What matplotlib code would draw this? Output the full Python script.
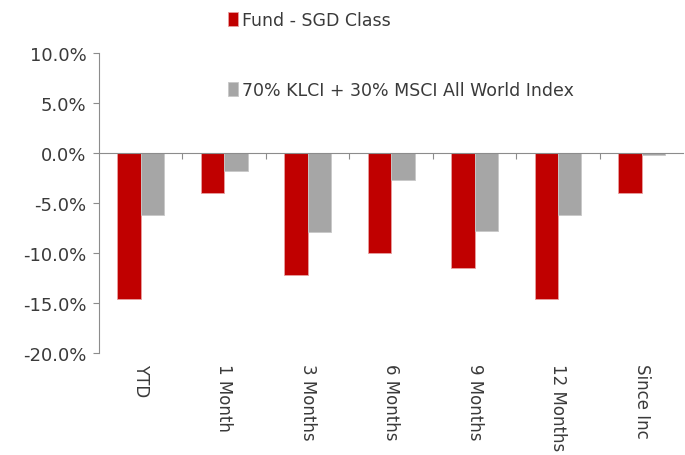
import matplotlib
matplotlib.use('Agg')
import matplotlib.pyplot as plt
import numpy as np

plt.rcParams.update({'font.family': 'DejaVu Sans', 'font.size': 12,
                     'text.color': '#3a3a3a', 'xtick.labelcolor': '#3a3a3a',
                     'ytick.labelcolor': '#3a3a3a'})

categories = ['YTD', '1 Month', '3 Months', '6 Months', '9 Months', '12 Months', 'Since Inc']
fund = [-14.6, -4.0, -12.2, -10.0, -11.5, -14.6, -4.0]
bench = [-6.2, -1.8, -7.9, -2.7, -7.8, -6.2, -0.2]

fig = plt.figure(figsize=(6.85, 4.56), dpi=100)
ax = fig.add_axes([0.1445, 0.2237, 0.853, 0.658])

x = np.arange(len(categories))
w = 0.28
ax.bar(x - w / 2, fund, w, color='#C00000', edgecolor='#E8A0A0', linewidth=0.6,
       label='Fund - SGD Class')
ax.bar(x + w / 2, bench, w, color='#A6A6A6', edgecolor='#C8C8C8', linewidth=0.6,
       label='70% KLCI + 30% MSCI All World Index')

ax.set_xlim(-0.5, len(categories) - 0.5)
ax.set_ylim(-20, 10)
yt = np.arange(-20, 10.1, 5)
ax.set_yticks(yt)
ax.set_yticklabels([f'{v:.1f}%' for v in yt], fontsize=13)

grey = '#8C8C8C'
for s in ['top', 'right']:
    ax.spines[s].set_visible(False)
ax.spines['left'].set_color(grey)
ax.spines['bottom'].set_color(grey)
ax.spines['bottom'].set_position(('data', 0))
ax.tick_params(axis='y', color=grey, length=4, pad=5)
ax.set_xticks(x[:-1] + 0.5)
ax.set_xticklabels([])
ax.tick_params(axis='x', color=grey, length=4, direction='out')

for xi, lab in zip(x, categories):
    ax.text(xi, -0.035, lab, transform=ax.get_xaxis_transform(), rotation=270,
            ha='center', va='top', fontsize=12)

fig.legend(loc='upper left', bbox_to_anchor=(0.31, 1.008), frameon=False,
           handlelength=0.55, handleheight=0.9, handletextpad=0.25,
           labelspacing=3.0, fontsize=12.5)

fig.savefig('out.png', dpi=100)
